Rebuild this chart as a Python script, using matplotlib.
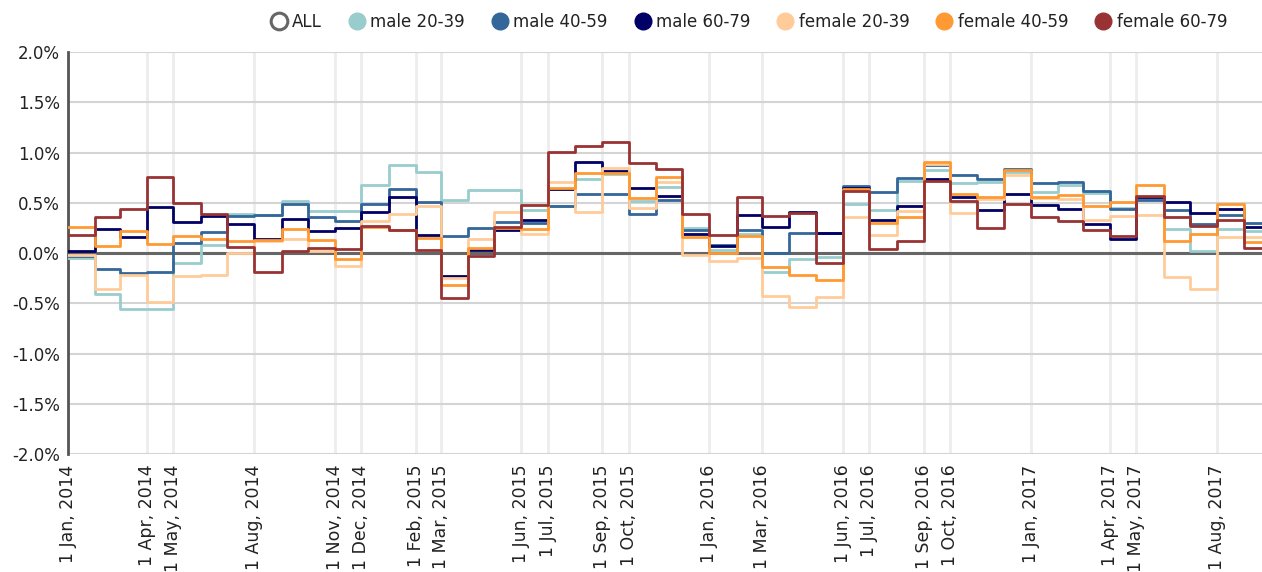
#!/usr/bin/env python3
"""Monthly change by sex and age group, drawn as step lines."""

from datetime import date

import matplotlib
matplotlib.use("Agg")
import matplotlib.dates as mdates
import matplotlib.pyplot as plt
from matplotlib.lines import Line2D
from matplotlib.ticker import FuncFormatter, MultipleLocator

# one value per month, Jan 2014 .. Sep 2017 (percent)
start_year, start_month, n_months = 2014, 1, 45

male_20_39 = [
    -0.05, -0.41, -0.56, -0.56, -0.10, 0.08, 0.39, 0.38, 0.52, 0.42, 0.42, 0.68,
    0.88, 0.81, 0.53, 0.63, 0.63, 0.43, 0.47, 0.74, 0.79, 0.52, 0.66, 0.25,
    0.03, 0.19, -0.19, -0.06, -0.04, 0.49, 0.43, 0.72, 0.83, 0.70, 0.71, 0.81,
    0.61, 0.68, 0.60, 0.45, 0.54, 0.24, 0.02, 0.24, 0.22,
]
male_40_59 = [
    -0.03, -0.16, -0.20, -0.19, 0.10, 0.21, 0.37, 0.38, 0.49, 0.36, 0.32, 0.49,
    0.64, 0.51, 0.17, 0.25, 0.31, 0.30, 0.47, 0.59, 0.59, 0.39, 0.53, 0.23,
    0.08, 0.23, 0.00, 0.20, 0.20, 0.67, 0.61, 0.75, 0.88, 0.78, 0.74, 0.84,
    0.70, 0.71, 0.62, 0.44, 0.53, 0.43, 0.29, 0.38, 0.30,
]
male_60_79 = [
    0.02, 0.24, 0.16, 0.46, 0.31, 0.37, 0.29, 0.14, 0.34, 0.22, 0.25, 0.41,
    0.56, 0.18, -0.23, 0.03, 0.23, 0.33, 0.64, 0.91, 0.82, 0.65, 0.57, 0.19,
    0.07, 0.38, 0.26, 0.41, 0.20, 0.65, 0.33, 0.47, 0.74, 0.56, 0.43, 0.59,
    0.48, 0.44, 0.29, 0.14, 0.56, 0.51, 0.40, 0.44, 0.26,
]
female_20_39 = [
    -0.02, -0.36, -0.22, -0.49, -0.23, -0.22, 0.00, 0.12, 0.14, 0.02, -0.13, 0.32,
    0.39, 0.47, -0.25, 0.14, 0.41, 0.19, 0.71, 0.41, 0.85, 0.45, 0.71, -0.02,
    -0.08, -0.05, -0.43, -0.54, -0.44, 0.36, 0.18, 0.42, 0.89, 0.40, 0.54, 0.78,
    0.55, 0.54, 0.33, 0.37, 0.38, -0.24, -0.36, 0.16, 0.16,
]
female_40_59 = [
    0.26, 0.07, 0.22, 0.09, 0.17, 0.14, 0.12, 0.13, 0.24, 0.13, -0.06, 0.26,
    0.23, 0.15, -0.32, 0.05, 0.25, 0.24, 0.65, 0.80, 0.80, 0.55, 0.76, 0.16,
    0.00, 0.17, -0.14, -0.22, -0.27, 0.64, 0.30, 0.36, 0.91, 0.59, 0.56, 0.83,
    0.56, 0.58, 0.47, 0.51, 0.68, 0.12, 0.19, 0.49, 0.11,
]
female_60_79 = [
    0.18, 0.36, 0.44, 0.76, 0.50, 0.39, 0.06, -0.19, 0.02, 0.05, 0.04, 0.27,
    0.23, 0.03, -0.45, -0.03, 0.26, 0.48, 1.01, 1.07, 1.10, 0.90, 0.84, 0.39,
    0.18, 0.56, 0.37, 0.40, -0.10, 0.62, 0.04, 0.12, 0.72, 0.52, 0.25, 0.49,
    0.36, 0.32, 0.23, 0.17, 0.57, 0.36, 0.27, 0.33, 0.05,
]

series_names = ["male 20-39", "male 40-59", "male 60-79",
                "female 20-39", "female 40-59", "female 60-79"]
series_values = [male_20_39, male_40_59, male_60_79,
                 female_20_39, female_40_59, female_60_79]
series_colors = ["#99cccc", "#336699", "#000066", "#ffcc99", "#ff9933", "#993333"]

tick_dates = [
    date(2014, 1, 1), date(2014, 4, 1), date(2014, 5, 1), date(2014, 8, 1),
    date(2014, 11, 1), date(2014, 12, 1), date(2015, 2, 1), date(2015, 3, 1),
    date(2015, 6, 1), date(2015, 7, 1), date(2015, 9, 1), date(2015, 10, 1),
    date(2016, 1, 1), date(2016, 3, 1), date(2016, 6, 1), date(2016, 7, 1),
    date(2016, 9, 1), date(2016, 10, 1), date(2017, 1, 1), date(2017, 4, 1),
    date(2017, 5, 1), date(2017, 8, 1),
]


def month_starts(year: int, month: int, count: int) -> list[date]:
    out = []
    for i in range(count):
        m = month - 1 + i
        out.append(date(year + m // 12, m % 12 + 1, 1))
    return out


def main() -> int:
    months = month_starts(start_year, start_month, n_months + 1)

    fig = plt.figure(figsize=(12.62, 5.72), dpi=100)
    ax = fig.add_axes([0.0539, 0.2063, 0.9461, 0.7027])

    for name, values, color in zip(series_names, series_values, series_colors):
        ax.step(months, values + values[-1:], where="post", color=color,
                lw=2.0, label=name, zorder=3)

    ax.axhline(0, color="#666666", lw=2.2, zorder=2)

    ax.set_ylim(-2.0, 2.0)
    ax.set_xlim(date(2014, 1, 1), date(2017, 9, 21))
    ax.yaxis.set_major_locator(MultipleLocator(0.5))
    ax.yaxis.set_major_formatter(FuncFormatter(lambda v, _: f"{v:.1f}%"))
    ax.set_xticks(tick_dates)
    ax.xaxis.set_major_formatter(mdates.DateFormatter("1 %b, %Y"))

    ax.tick_params(axis="both", length=0, colors="#222222")
    ax.tick_params(axis="y", labelsize=12, pad=6)
    ax.tick_params(axis="x", labelsize=12.5, pad=7.5)
    for lbl in ax.get_xticklabels():
        lbl.set_rotation(90)
        lbl.set_va("top")
        lbl.set_ha("center")

    ax.grid(axis="y", color="#d4d4d4", lw=1.5, zorder=0)
    ax.grid(axis="x", color="#ededed", lw=2.0, zorder=0)
    for side in ("top", "right", "bottom"):
        ax.spines[side].set_visible(False)
    ax.spines["left"].set_color("#555555")
    ax.spines["left"].set_linewidth(2.0)

    handles = [Line2D([], [], marker="o", ls="none", markersize=12,
                      markerfacecolor="white", markeredgecolor="#666666",
                      markeredgewidth=2.2, label="ALL")]
    for name, color in zip(series_names, series_colors):
        handles.append(Line2D([], [], marker="o", ls="none", markersize=12,
                              markerfacecolor=color, markeredgecolor=color,
                              label=name))
    fig.legend(handles=handles, loc="center", bbox_to_anchor=(0.594, 0.961),
               ncol=7, frameon=False, fontsize=12, handlelength=0.8,
               handletextpad=0.4, columnspacing=1.7, labelcolor="#222222")

    fig.savefig("out.png", dpi=100)
    plt.close(fig)
    return 0


if __name__ == "__main__":
    raise SystemExit(main())
